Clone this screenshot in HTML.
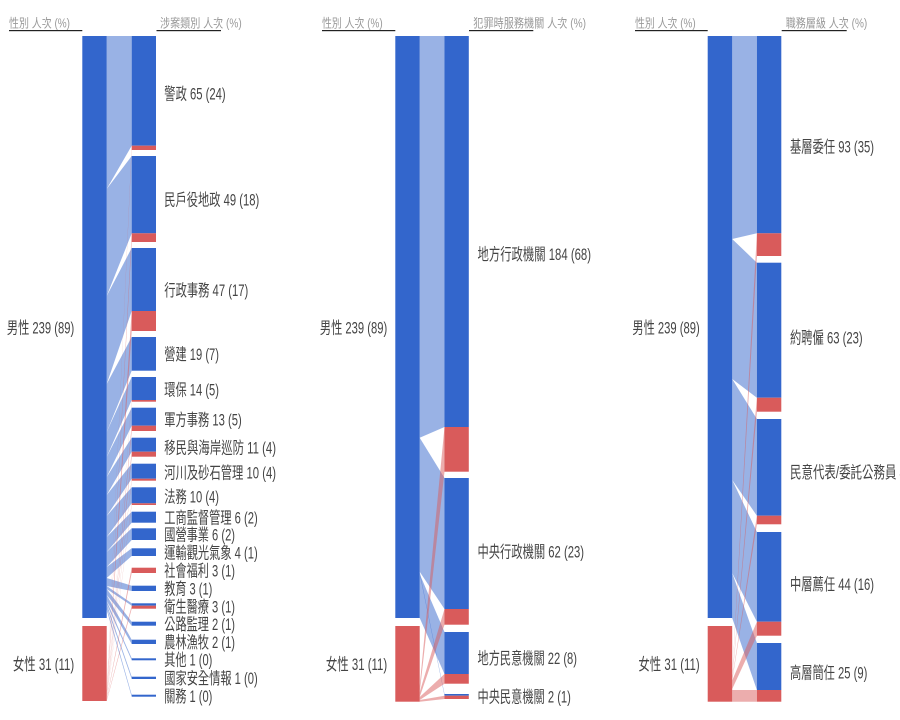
<!DOCTYPE html>
<html>
<head>
<meta charset="utf-8">
<style>
  html,body{margin:0;padding:0;background:#fff;}
  body{width:900px;height:720px;overflow:hidden;}
  svg{display:block;}
  .lbl{font-family:"Liberation Sans","Noto Sans CJK TC",sans-serif;font-size:16.5px;fill:#444;}
  .hdr{font-family:"Liberation Sans","Noto Sans CJK TC",sans-serif;font-size:12.5px;fill:#999;}
</style>
</head>
<body>
<svg width="900" height="720" viewBox="0 0 900 720" xmlns="http://www.w3.org/2000/svg">
  <!-- ================= HEADERS ================= -->
  <g>
    <text class="hdr" x="9" y="27.5" textLength="61" lengthAdjust="spacingAndGlyphs">性別 人次 (%)</text>
    <rect x="9" y="30" width="73.3" height="1.2" fill="#222"/>
    <text class="hdr" x="160" y="27.5" textLength="81.7" lengthAdjust="spacingAndGlyphs">涉案類別 人次 (%)</text>
    <rect x="156.5" y="30" width="64.5" height="1.2" fill="#222"/>

    <text class="hdr" x="322" y="27.5" textLength="60.7" lengthAdjust="spacingAndGlyphs">性別 人次 (%)</text>
    <rect x="322" y="30" width="73.3" height="1.2" fill="#222"/>
    <text class="hdr" x="473.3" y="27.5" textLength="112.7" lengthAdjust="spacingAndGlyphs">犯罪時服務機關 人次 (%)</text>
    <rect x="469" y="30" width="64.3" height="1.2" fill="#222"/>

    <text class="hdr" x="635" y="27.5" textLength="60.7" lengthAdjust="spacingAndGlyphs">性別 人次 (%)</text>
    <rect x="635" y="30" width="72.7" height="1.2" fill="#222"/>
    <text class="hdr" x="785.7" y="27.5" textLength="81.6" lengthAdjust="spacingAndGlyphs">職務層級 人次 (%)</text>
    <rect x="781.7" y="30" width="65" height="1.2" fill="#222"/>
  </g>

  <!-- ================= LEFT PANEL ================= -->
  <g fill="#3366cc" fill-opacity="0.5">
    <polygon points="106.7,36 131.7,36 131.7,145.7 106.7,189"/>
    <polygon points="106.7,189 131.7,156 131.7,233.3 106.7,296"/>
    <polygon points="106.7,296 131.7,248 131.7,311 106.7,384"/>
    <polygon points="106.7,384 131.7,337 131.7,370.7 106.7,432"/>
    <polygon points="106.7,432 131.7,377 131.7,400 106.7,457"/>
    <polygon points="106.7,457 131.7,407.7 131.7,425.7 106.7,477"/>
    <polygon points="106.7,477 131.7,437.7 131.7,451.7 106.7,495"/>
    <polygon points="106.7,495 131.7,463.7 131.7,478.7 106.7,516"/>
    <polygon points="106.7,516 131.7,487.3 131.7,503.3 106.7,537"/>
    <polygon points="106.7,537 131.7,511.7 131.7,522.7 106.7,552"/>
    <polygon points="106.7,552 131.7,528.3 131.7,540 106.7,567"/>
    <polygon points="106.7,567 131.7,548.3 131.7,556 106.7,578"/>
    <polygon points="106.7,578 131.7,585.7 131.7,591 106.7,586"/>
    <polygon points="106.7,586 131.7,603.3 131.7,605.7 106.7,589"/>
    <polygon points="106.7,589 131.7,621.7 131.7,625.7 106.7,595"/>
    <polygon points="106.7,595 131.7,639.7 131.7,644 106.7,601"/>
    <polygon points="106.7,601 131.7,658.3 131.7,660.3 106.7,604"/>
    <polygon points="106.7,604 131.7,676.7 131.7,679 106.7,607"/>
    <polygon points="106.7,607 131.7,694.7 131.7,696.7 106.7,610"/>
  </g>
  <g fill="#d95b5b" fill-opacity="0.5">
    <polygon points="106.7,690 131.7,145.7 131.7,150 106.7,691"/>
    <polygon points="106.7,691 131.7,233.3 131.7,242 106.7,692.5"/>
    <polygon points="106.7,692.5 131.7,311 131.7,331 106.7,695.5"/>
    <polygon points="106.7,695.5 131.7,400 131.7,401.7 106.7,696"/>
    <polygon points="106.7,696 131.7,425.7 131.7,431 106.7,697"/>
    <polygon points="106.7,697 131.7,451.7 131.7,456.7 106.7,698"/>
    <polygon points="106.7,698 131.7,478.7 131.7,480.7 106.7,698.5"/>
    <polygon points="106.7,698.5 131.7,503.3 131.7,505 106.7,699"/>
    <polygon points="106.7,699 131.7,567.7 131.7,573 106.7,700"/>
    <polygon points="106.7,700 131.7,605.7 131.7,608.7 106.7,701"/>
  </g>
  <!-- gender nodes -->
  <rect x="82.3" y="36" width="24.4" height="582" fill="#3366cc"/>
  <rect x="82.3" y="626" width="24.4" height="75" fill="#d95b5b"/>
  <!-- category nodes -->
  <g fill="#3366cc">
    <rect x="131.7" y="36" width="24.3" height="109.7"/>
    <rect x="131.7" y="156" width="24.3" height="77.3"/>
    <rect x="131.7" y="248" width="24.3" height="63"/>
    <rect x="131.7" y="337" width="24.3" height="33.7"/>
    <rect x="131.7" y="377" width="24.3" height="23"/>
    <rect x="131.7" y="407.7" width="24.3" height="18"/>
    <rect x="131.7" y="437.7" width="24.3" height="14"/>
    <rect x="131.7" y="463.7" width="24.3" height="15"/>
    <rect x="131.7" y="487.3" width="24.3" height="16"/>
    <rect x="131.7" y="511.7" width="24.3" height="11"/>
    <rect x="131.7" y="528.3" width="24.3" height="11.7"/>
    <rect x="131.7" y="548.3" width="24.3" height="7.7"/>
    <rect x="131.7" y="585.7" width="24.3" height="5.3"/>
    <rect x="131.7" y="603.3" width="24.3" height="2.4"/>
    <rect x="131.7" y="621.7" width="24.3" height="4"/>
    <rect x="131.7" y="639.7" width="24.3" height="4.3"/>
    <rect x="131.7" y="658.3" width="24.3" height="2"/>
    <rect x="131.7" y="676.7" width="24.3" height="2.3"/>
    <rect x="131.7" y="694.7" width="24.3" height="2"/>
  </g>
  <g fill="#d95b5b">
    <rect x="131.7" y="145.7" width="24.3" height="4.3"/>
    <rect x="131.7" y="233.3" width="24.3" height="8.7"/>
    <rect x="131.7" y="311" width="24.3" height="20"/>
    <rect x="131.7" y="400" width="24.3" height="1.7"/>
    <rect x="131.7" y="425.7" width="24.3" height="5.3"/>
    <rect x="131.7" y="451.7" width="24.3" height="5"/>
    <rect x="131.7" y="478.7" width="24.3" height="2"/>
    <rect x="131.7" y="503.3" width="24.3" height="1.7"/>
    <rect x="131.7" y="567.7" width="24.3" height="5.3"/>
    <rect x="131.7" y="605.7" width="24.3" height="3"/>
  </g>
  <!-- labels -->
  <g class="lbl">
    <text class="lbl" x="6.9" y="333.3" textLength="67.3" lengthAdjust="spacingAndGlyphs">男性 239 (89)</text>
    <text class="lbl" x="12.9" y="669.8" textLength="61.3" lengthAdjust="spacingAndGlyphs">女性 31 (11)</text>
    <text class="lbl" x="164.3" y="99.3" textLength="61.4" lengthAdjust="spacingAndGlyphs">警政 65 (24)</text>
    <text class="lbl" x="164.3" y="205.3" textLength="95" lengthAdjust="spacingAndGlyphs">民戶役地政 49 (18)</text>
    <text class="lbl" x="164.3" y="295.8" textLength="84" lengthAdjust="spacingAndGlyphs">行政事務 47 (17)</text>
    <text class="lbl" x="164.3" y="360.1" textLength="54.7" lengthAdjust="spacingAndGlyphs">營建 19 (7)</text>
    <text class="lbl" x="164.3" y="395.6" textLength="54.7" lengthAdjust="spacingAndGlyphs">環保 14 (5)</text>
    <text class="lbl" x="164.3" y="425.6" textLength="77.4" lengthAdjust="spacingAndGlyphs">軍方事務 13 (5)</text>
    <text class="lbl" x="164.3" y="453.5" textLength="111.7" lengthAdjust="spacingAndGlyphs">移民與海岸巡防 11 (4)</text>
    <text class="lbl" x="164.3" y="478.5" textLength="111.7" lengthAdjust="spacingAndGlyphs">河川及砂石管理 10 (4)</text>
    <text class="lbl" x="164.3" y="502.5" textLength="54.7" lengthAdjust="spacingAndGlyphs">法務 10 (4)</text>
    <text class="lbl" x="164.3" y="523.5" textLength="93.4" lengthAdjust="spacingAndGlyphs">工商監督管理 6 (2)</text>
    <text class="lbl" x="164.3" y="540.5" textLength="70.7" lengthAdjust="spacingAndGlyphs">國營事業 6 (2)</text>
    <text class="lbl" x="164.3" y="558.5" textLength="93.4" lengthAdjust="spacingAndGlyphs">運輸觀光氣象 4 (1)</text>
    <text class="lbl" x="164.3" y="576.6" textLength="70.7" lengthAdjust="spacingAndGlyphs">社會福利 3 (1)</text>
    <text class="lbl" x="164.3" y="594.6" textLength="48" lengthAdjust="spacingAndGlyphs">教育 3 (1)</text>
    <text class="lbl" x="164.3" y="612.3" textLength="70.7" lengthAdjust="spacingAndGlyphs">衛生醫療 3 (1)</text>
    <text class="lbl" x="164.3" y="630" textLength="70.7" lengthAdjust="spacingAndGlyphs">公路監理 2 (1)</text>
    <text class="lbl" x="164.3" y="648.1" textLength="70.7" lengthAdjust="spacingAndGlyphs">農林漁牧 2 (1)</text>
    <text class="lbl" x="164.3" y="665.6" textLength="48" lengthAdjust="spacingAndGlyphs">其他 1 (0)</text>
    <text class="lbl" x="164.3" y="684.1" textLength="93.4" lengthAdjust="spacingAndGlyphs">國家安全情報 1 (0)</text>
    <text class="lbl" x="164.3" y="702" textLength="48" lengthAdjust="spacingAndGlyphs">關務 1 (0)</text>
  </g>

  <!-- ================= MIDDLE PANEL ================= -->
  <g fill="#3366cc" fill-opacity="0.5">
    <polygon points="419.7,36 444.5,36 444.5,427 419.7,437.8"/>
    <polygon points="419.7,437.8 444.5,478 444.5,609 419.7,571.7"/>
    <polygon points="419.7,571.7 444.5,694 444.5,695.7 419.7,574"/>
    <polygon points="419.7,574 444.5,632 444.5,674 419.7,618"/>
  </g>
  <g fill="#d95b5b" fill-opacity="0.5">
    <polygon points="419.7,686 444.5,427 444.5,471.7 419.7,692"/>
    <polygon points="419.7,692 444.5,609 444.5,624.7 419.7,697"/>
    <polygon points="419.7,697 444.5,674 444.5,683.7 419.7,700"/>
    <polygon points="419.7,700 444.5,695.7 444.5,699 419.7,701.7"/>
  </g>
  <rect x="395.3" y="36" width="24.4" height="582" fill="#3366cc"/>
  <rect x="395.3" y="626" width="24.4" height="75.7" fill="#d95b5b"/>
  <g fill="#3366cc">
    <rect x="444.5" y="36" width="24.3" height="391"/>
    <rect x="444.5" y="478" width="24.3" height="131"/>
    <rect x="444.5" y="632" width="24.3" height="42"/>
    <rect x="444.5" y="694" width="24.3" height="1.7"/>
  </g>
  <g fill="#d95b5b">
    <rect x="444.5" y="427" width="24.3" height="44.7"/>
    <rect x="444.5" y="609" width="24.3" height="15.7"/>
    <rect x="444.5" y="674" width="24.3" height="9.7"/>
    <rect x="444.5" y="695.7" width="24.3" height="3.3"/>
  </g>
  <g>
    <text class="lbl" x="319.9" y="333.3" textLength="67.3" lengthAdjust="spacingAndGlyphs">男性 239 (89)</text>
    <text class="lbl" x="325.9" y="670.1" textLength="61.3" lengthAdjust="spacingAndGlyphs">女性 31 (11)</text>
    <text class="lbl" x="477.5" y="260.1" textLength="113.5" lengthAdjust="spacingAndGlyphs">地方行政機關 184 (68)</text>
    <text class="lbl" x="477.5" y="557.6" textLength="106.5" lengthAdjust="spacingAndGlyphs">中央行政機關 62 (23)</text>
    <text class="lbl" x="477.5" y="664.2" textLength="99.5" lengthAdjust="spacingAndGlyphs">地方民意機關 22 (8)</text>
    <text class="lbl" x="477.5" y="702.5" textLength="93.4" lengthAdjust="spacingAndGlyphs">中央民意機關 2 (1)</text>
  </g>

  <!-- ================= RIGHT PANEL ================= -->
  <g fill="#3366cc" fill-opacity="0.5">
    <polygon points="732.2,36 756.9,36 756.9,233.3 732.2,239"/>
    <polygon points="732.2,239 756.9,262.7 756.9,397.7 732.2,379"/>
    <polygon points="732.2,379 756.9,419 756.9,515.7 732.2,480"/>
    <polygon points="732.2,480 756.9,532 756.9,621.7 732.2,573"/>
    <polygon points="732.2,573 756.9,643 756.9,690 732.2,618"/>
  </g>
  <g fill="#d95b5b" fill-opacity="0.5">
    <polygon points="732.2,676 756.9,233.3 756.9,256 732.2,677.5"/>
    <polygon points="732.2,677.5 756.9,397.7 756.9,411.7 732.2,679"/>
    <polygon points="732.2,679 756.9,515.7 756.9,524.3 732.2,680.5"/>
    <polygon points="732.2,680.5 756.9,621.7 756.9,635.7 732.2,689"/>
    <polygon points="732.2,690 756.9,690 756.9,701.7 732.2,701.7"/>
  </g>
  <rect x="707.7" y="36" width="24.5" height="582" fill="#3366cc"/>
  <rect x="707.7" y="626" width="24.5" height="75.7" fill="#d95b5b"/>
  <g fill="#3366cc">
    <rect x="756.9" y="36" width="24.4" height="197.3"/>
    <rect x="756.9" y="262.7" width="24.4" height="135"/>
    <rect x="756.9" y="419" width="24.4" height="96.7"/>
    <rect x="756.9" y="532" width="24.4" height="89.7"/>
    <rect x="756.9" y="643" width="24.4" height="47"/>
  </g>
  <g fill="#d95b5b">
    <rect x="756.9" y="233.3" width="24.4" height="22.7"/>
    <rect x="756.9" y="397.7" width="24.4" height="14"/>
    <rect x="756.9" y="515.7" width="24.4" height="8.6"/>
    <rect x="756.9" y="621.7" width="24.4" height="14"/>
    <rect x="756.9" y="690" width="24.4" height="11.7"/>
  </g>
  <g>
    <text class="lbl" x="632.4" y="333.3" textLength="67.3" lengthAdjust="spacingAndGlyphs">男性 239 (89)</text>
    <text class="lbl" x="638.4" y="670.1" textLength="61.3" lengthAdjust="spacingAndGlyphs">女性 31 (11)</text>
    <text class="lbl" x="790" y="152.3" textLength="84" lengthAdjust="spacingAndGlyphs">基層委任 93 (35)</text>
    <text class="lbl" x="790" y="343.5" textLength="72.7" lengthAdjust="spacingAndGlyphs">約聘僱 63 (23)</text>
    <text class="lbl" x="790" y="478" textLength="146" lengthAdjust="spacingAndGlyphs">民意代表/委託公務員 45 (17)</text>
    <text class="lbl" x="790" y="590.2" textLength="84" lengthAdjust="spacingAndGlyphs">中層薦任 44 (16)</text>
    <text class="lbl" x="790" y="678.7" textLength="77.3" lengthAdjust="spacingAndGlyphs">高層簡任 25 (9)</text>
  </g>
</svg>
</body>
</html>
